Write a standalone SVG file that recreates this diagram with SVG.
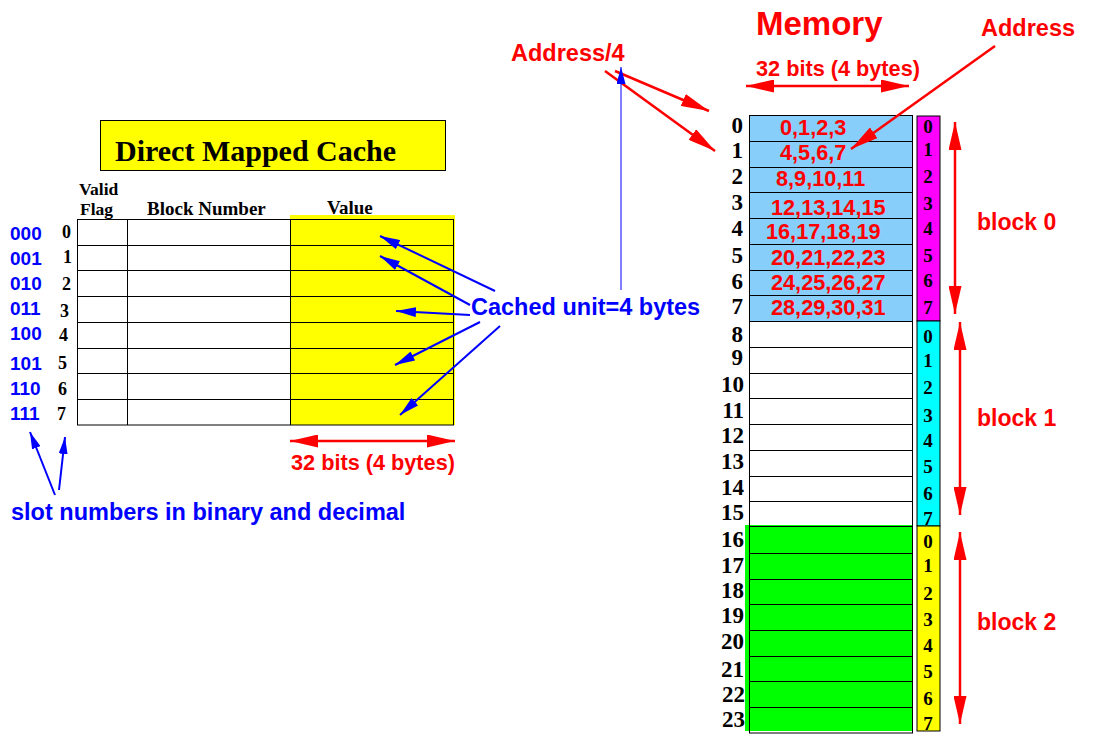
<svg xmlns="http://www.w3.org/2000/svg" width="1108" height="746" viewBox="0 0 1108 746">
<style>
.serif{font-family:"Liberation Serif","Times New Roman",serif;font-weight:bold;fill:#000}
.sans{font-family:"Liberation Sans",Arial,sans-serif;font-weight:bold}
.red{fill:#FF0000}
.blue{fill:#0000FF}
.cell{fill:none;stroke:#000;stroke-width:1}
.rl{stroke:#FF0000;stroke-width:2.5;fill:none}
.bl{stroke:#0000FF;stroke-width:2;fill:none}
.rownum{font-size:23px;text-anchor:end}
.blk{font-size:19px;text-anchor:middle}
.val{font-size:21.7px}
</style>
<defs>
<marker id="ra" viewBox="0 0 28 13" refX="28" refY="6.5" markerWidth="28" markerHeight="13" markerUnits="userSpaceOnUse" orient="auto-start-reverse"><path d="M0,0 L28,6.5 L0,13 z" fill="#FF0000"/></marker>
<marker id="ba" viewBox="0 0 20 10" refX="20" refY="5" markerWidth="20" markerHeight="10" markerUnits="userSpaceOnUse" orient="auto"><path d="M0,0 L20,5 L0,10 z" fill="#0000FF"/></marker>
<marker id="bs" viewBox="0 0 17 9" refX="17" refY="4.5" markerWidth="17" markerHeight="9" markerUnits="userSpaceOnUse" orient="auto"><path d="M0,0 L17,4.5 L0,9 z" fill="#0000FF"/></marker>
</defs>
<rect width="1108" height="746" fill="#fff"/>

<g id="cache-title">
<rect x="100.5" y="120.5" width="345" height="50" fill="#FFFF00" stroke="#000"/>
<text class="serif" x="115" y="161" font-size="30">Direct Mapped Cache</text>
</g>

<g id="cache-table">
<rect x="290" y="215" width="165" height="210" fill="#FFFF00"/>
<rect class="cell" x="77.5" y="219.5" width="376" height="205.5"/>
<path class="cell" d="M127.5,219.5V425 M290.5,219.5V425 M77.5,245.5H453.5 M77.5,270.5H453.5 M77.5,296.5H453.5 M77.5,322.5H453.5 M77.5,348.5H453.5 M77.5,373.5H453.5 M77.5,399.5H453.5"/>
<text class="serif" x="79" y="195" font-size="17.5">Valid</text>
<text class="serif" x="80" y="215" font-size="17.5">Flag</text>
<text class="serif" x="147" y="215" font-size="19">Block Number</text>
<text class="serif" x="327" y="214" font-size="19">Value</text>
<g class="serif" font-size="18">
<text x="62" y="238">0</text><text x="63" y="263">1</text><text x="62" y="290">2</text><text x="60" y="317">3</text>
<text x="59" y="341">4</text><text x="58" y="369">5</text><text x="58" y="395">6</text><text x="57" y="420">7</text>
</g>
<g class="sans blue" font-size="19">
<text x="10" y="240">000</text><text x="10" y="265">001</text><text x="10" y="290">010</text><text x="10" y="315">011</text>
<text x="10" y="340">100</text><text x="10" y="370">101</text><text x="10" y="395">110</text><text x="10" y="420">111</text>
</g>
</g>

<g id="cache-width">
<text class="sans red" x="291" y="470" font-size="21.7">32 bits (4 bytes)</text>
</g>

<g id="cached-unit-label">
<text class="sans blue" x="471" y="315" font-size="23.5">Cached unit=4 bytes</text>
</g>

<g id="slot-label">
<text class="sans blue" x="11" y="520" font-size="23.5">slot numbers in binary and decimal</text>
</g>

<g id="memory-title">
<text class="sans red" x="756" y="35" font-size="33">Memory</text>
<text class="sans red" x="756" y="76" font-size="21.7">32 bits (4 bytes)</text>
</g>

<g id="address-label"><text class="sans red" x="981" y="36" font-size="23.5">Address</text></g>
<g id="address4-label"><text class="sans red" x="511" y="61" font-size="23.5">Address/4</text></g>

<g id="memory">
<rect x="749.5" y="115.5" width="163" height="206" fill="#87CEFA"/>
<rect x="745" y="525" width="167" height="206" fill="#00FF00"/>
<rect class="cell" x="749.5" y="115.5" width="163" height="617.5"/>
<path class="cell" d="M749.5,141.5H912.5 M749.5,167.5H912.5 M749.5,192.5H912.5 M749.5,218.5H912.5 M749.5,244.5H912.5 M749.5,270.5H912.5 M749.5,295.5H912.5 M749.5,321.5H912.5 M749.5,347.5H912.5 M749.5,373.5H912.5 M749.5,398.5H912.5 M749.5,424.5H912.5 M749.5,450.5H912.5 M749.5,476.5H912.5 M749.5,501.5H912.5 M749.5,526.5H912.5 M749.5,553.5H912.5 M749.5,579.5H912.5 M749.5,604.5H912.5 M749.5,630.5H912.5 M749.5,656.5H912.5 M749.5,681.5H912.5 M749.5,707.5H912.5"/>
<g class="serif rownum">
<text x="743" y="133">0</text><text x="743" y="158">1</text><text x="743" y="184">2</text><text x="743" y="210">3</text>
<text x="743" y="236">4</text><text x="743" y="263">5</text><text x="743" y="289">6</text><text x="743" y="314">7</text>
<text x="743" y="342">8</text><text x="743" y="365">9</text><text x="744" y="392">10</text><text x="744" y="418">11</text>
<text x="744" y="443">12</text><text x="744" y="469">13</text><text x="744" y="495">14</text><text x="744" y="520">15</text>
<text x="744" y="547">16</text><text x="744" y="573">17</text><text x="744" y="598">18</text><text x="744" y="623">19</text>
<text x="744" y="649">20</text><text x="744" y="677">21</text><text x="745" y="702">22</text><text x="745" y="727">23</text>
</g>
<g class="sans red val">
<text x="780" y="135">0,1,2,3</text>
<text x="780" y="160">4,5,6,7</text>
<text x="776" y="186">8,9,10,11</text>
<text x="771" y="215">12,13,14,15</text>
<text x="766" y="239">16,17,18,19</text>
<text x="771" y="265">20,21,22,23</text>
<text x="771" y="290">24,25,26,27</text>
<text x="771" y="315">28,29,30,31</text>
</g>
</g>

<g id="block-column">
<rect x="917" y="116" width="23" height="205" fill="#FF00FF" stroke="#000"/>
<rect x="917" y="321" width="23" height="205" fill="#00FFFF" stroke="#000"/>
<rect x="917" y="526" width="23" height="205" fill="#FFFF00" stroke="#000"/>
<g class="serif blk">
<text x="928" y="133">0</text><text x="928" y="156">1</text><text x="928" y="183">2</text><text x="928" y="210">3</text>
<text x="928" y="235">4</text><text x="928" y="262">5</text><text x="928" y="287">6</text><text x="928" y="314">7</text>
<text x="928" y="343">0</text><text x="928" y="367">1</text><text x="928" y="394">2</text><text x="928" y="422">3</text>
<text x="928" y="447">4</text><text x="928" y="473">5</text><text x="928" y="500">6</text><text x="928" y="525">7</text>
<text x="928" y="548">0</text><text x="928" y="572">1</text><text x="928" y="600">2</text><text x="928" y="626">3</text>
<text x="928" y="652">4</text><text x="928" y="678">5</text><text x="928" y="705">6</text><text x="928" y="730">7</text>
</g>
</g>

<g id="block0-label"><text class="sans red" x="977" y="230" font-size="23">block 0</text></g>
<g id="block1-label"><text class="sans red" x="977" y="426" font-size="23">block 1</text></g>
<g id="block2-label"><text class="sans red" x="977" y="630" font-size="23">block 2</text></g>

<g id="connectors">
<line class="rl" x1="955" y1="122" x2="955" y2="314" marker-start="url(#ra)" marker-end="url(#ra)"/>
<line class="rl" x1="960" y1="322" x2="960" y2="515" marker-start="url(#ra)" marker-end="url(#ra)"/>
<line class="rl" x1="960" y1="532" x2="960" y2="724" marker-start="url(#ra)" marker-end="url(#ra)"/>
<line class="rl" x1="746" y1="86" x2="909" y2="86" marker-start="url(#ra)" marker-end="url(#ra)"/>
<line class="rl" x1="290" y1="441" x2="455" y2="441" marker-start="url(#ra)" marker-end="url(#ra)"/>
<line class="rl" x1="615" y1="71" x2="709" y2="111" marker-end="url(#ra)"/>
<line class="rl" x1="605" y1="71" x2="715" y2="151" marker-end="url(#ra)"/>
<line class="rl" x1="995" y1="46" x2="851" y2="149" marker-end="url(#ra)"/>
<line stroke="#0000FF" stroke-width="1" x1="621" y1="290" x2="621" y2="67" marker-end="url(#bs)"/>
<line class="bl" x1="495" y1="291" x2="380" y2="236" marker-end="url(#ba)"/>
<line class="bl" x1="470" y1="305" x2="380" y2="256" marker-end="url(#ba)"/>
<line class="bl" x1="470" y1="315" x2="396" y2="311" marker-end="url(#ba)"/>
<line class="bl" x1="480" y1="322" x2="395" y2="365" marker-end="url(#ba)"/>
<line class="bl" x1="500" y1="326" x2="400" y2="415" marker-end="url(#ba)"/>
<line class="bl" x1="55" y1="495" x2="30" y2="432" marker-end="url(#bs)"/>
<line class="bl" x1="59" y1="490" x2="65" y2="437" marker-end="url(#bs)"/>
</g>
</svg>
